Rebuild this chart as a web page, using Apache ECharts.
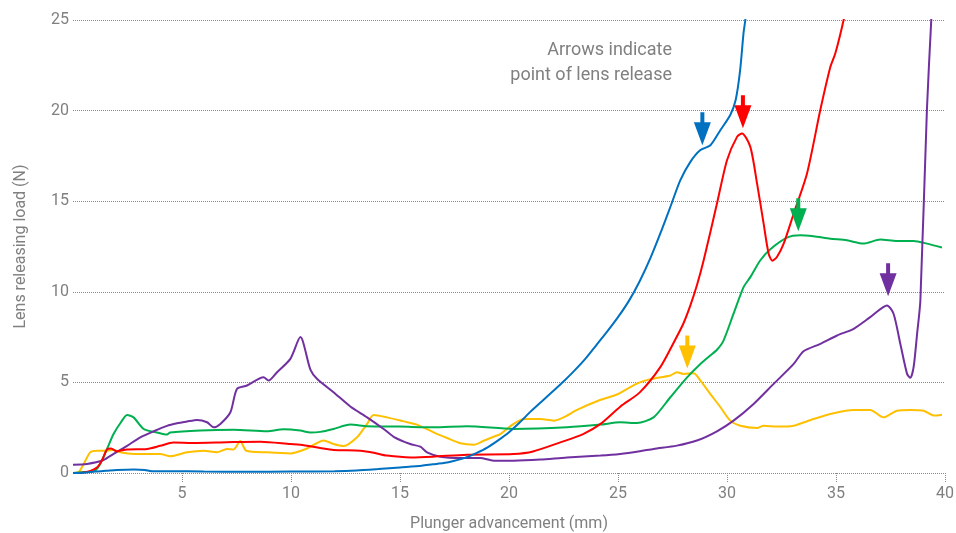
<!DOCTYPE html>
<html>
<head>
<meta charset="utf-8">
<script src="https://cdn.jsdelivr.net/npm/echarts@6/dist/echarts.min.js"></script>
<style>
  html, body { margin: 0; padding: 0; background: #fff; }
  #chart { width: 956px; height: 533px; }
</style>
</head>
<body>
<div id="chart"></div>
<script>
// Lens releasing load vs plunger advancement, one trace per cartridge
var xTicks = [5, 10, 15, 20, 25, 30, 35, 40];
var yTicks = [0, 5, 10, 15, 20, 25];

var blueData = [[0,0],[0.5,0.02],[1,0.08],[1.5,0.12],[2,0.17],[2.8,0.2],[3.3,0.17],[3.6,0.1],[4.5,0.1],[6,0.08],[8,0.07],[10,0.08],[12,0.1],[13,0.14],[14,0.22],[15,0.31],[16,0.4],[16.5,0.48],[17,0.55],[17.5,0.68],[18,0.85],[18.5,1.1],[19,1.4],[19.5,1.8],[20,2.25],[20.5,2.8],[21,3.4],[21.5,3.95],[22,4.5],[22.5,5.05],[23,5.65],[23.5,6.3],[24,7.05],[24.5,7.8],[25,8.6],[25.5,9.5],[26,10.6],[26.5,11.9],[27,13.4],[27.4,14.68],[27.86,16.16],[28.32,17.17],[28.78,17.82],[29.24,18.09],[29.7,18.93],[30.15,19.76],[30.4,20.6],[30.6,22.2],[30.76,24.3],[30.84,25],[30.95,26.5]];

var redData = [[0,0],[0.41,0.02],[0.8,0.12],[1.1,0.3],[1.33,0.7],[1.56,1.3],[1.75,1.35],[2.0,1.2],[2.48,1.3],[3.4,1.33],[4.0,1.5],[4.6,1.68],[5.5,1.66],[7.06,1.7],[8.6,1.73],[9.97,1.6],[10.43,1.56],[11.34,1.38],[11.95,1.27],[13.18,1.23],[13.8,1.12],[14.4,0.96],[15.5,0.86],[16.5,0.9],[18.07,1.01],[20.2,1.05],[21.1,1.19],[22.35,1.69],[23.4,2.15],[24.2,2.71],[25.1,3.66],[26.0,4.45],[26.94,5.84],[27.6,7.3],[28.0,8.25],[28.32,9.25],[28.63,10.4],[28.93,11.74],[29.54,14.87],[30.0,17.26],[30.46,18.55],[30.69,18.74],[31.07,18.0],[31.38,15.97],[31.68,13.76],[31.91,12.1],[32.08,11.72],[32.29,11.92],[32.6,12.66],[33.06,14.32],[33.67,16.53],[34.28,20.03],[34.74,22.4],[34.97,23.16],[35.35,25],[35.5,26]];

var greenData = [[0,0],[0.5,0.05],[0.95,0.09],[1.25,0.5],[1.55,1.3],[1.86,2.15],[2.2,2.8],[2.48,3.2],[2.78,3.07],[3.24,2.43],[3.85,2.24],[4.31,2.12],[4.46,2.23],[5.84,2.34],[7.37,2.38],[8.9,2.3],[9.66,2.41],[10.43,2.34],[10.89,2.23],[11.34,2.27],[11.95,2.43],[12.72,2.67],[13.49,2.58],[15.0,2.56],[16.54,2.52],[18.07,2.58],[20.21,2.43],[22.66,2.52],[24.2,2.67],[25.1,2.8],[25.87,2.76],[26.63,3.07],[27.4,4.18],[28.17,5.28],[28.78,6.02],[29.23,6.48],[29.54,6.8],[29.84,7.31],[30.3,8.79],[30.76,10.26],[31.07,10.81],[31.53,11.74],[31.99,12.35],[32.75,12.99],[33.36,13.12],[33.97,13.06],[34.74,12.93],[35.5,12.84],[36.26,12.66],[37.03,12.88],[37.8,12.8],[38.56,12.8],[39.17,12.66],[39.86,12.44]];

var yellowData = [[0,0],[0.26,0.05],[0.49,0.5],[0.79,1.14],[1.1,1.23],[1.56,1.23],[1.86,1.27],[2.17,1.14],[2.78,1.05],[4.0,1.05],[4.46,0.92],[5.23,1.14],[5.99,1.23],[6.6,1.14],[7.06,1.33],[7.37,1.3],[7.67,1.76],[7.95,1.23],[8.9,1.14],[9.97,1.08],[10.73,1.35],[11.5,1.8],[11.95,1.6],[12.41,1.49],[13.03,1.97],[13.49,2.71],[13.79,3.2],[14.4,3.07],[15.17,2.85],[15.78,2.67],[16.54,2.24],[17.16,1.93],[17.77,1.64],[18.38,1.56],[18.84,1.78],[19.29,2.0],[19.6,2.15],[20.21,2.71],[20.67,2.98],[21.44,2.98],[22.05,2.89],[22.5,3.07],[23.12,3.48],[24.2,4.04],[24.95,4.33],[25.5,4.7],[26.0,5.0],[26.5,5.18],[27.4,5.38],[27.7,5.56],[28.0,5.47],[28.47,5.51],[28.78,5.1],[29.23,4.37],[29.7,3.63],[30.15,2.89],[30.61,2.61],[31.38,2.49],[31.68,2.61],[32.29,2.56],[33.06,2.61],[33.97,2.98],[34.89,3.3],[35.81,3.48],[36.57,3.48],[37.18,3.07],[37.8,3.44],[38.41,3.48],[39.02,3.44],[39.48,3.17],[39.86,3.22]];

var purpleData = [[0,0.46],[0.64,0.5],[1.4,0.72],[1.86,1.05],[2.48,1.5],[3.09,1.97],[3.7,2.3],[4.31,2.6],[4.77,2.74],[5.23,2.84],[5.69,2.93],[6.15,2.8],[6.45,2.52],[6.76,2.71],[7.22,3.35],[7.52,4.64],[7.98,4.83],[8.74,5.28],[8.97,5.1],[9.36,5.56],[9.97,6.3],[10.43,7.5],[10.89,5.7],[11.19,5.2],[11.95,4.46],[12.72,3.67],[13.49,3.07],[14.25,2.43],[14.71,2.0],[15.47,1.6],[15.93,1.45],[16.24,1.14],[16.85,0.9],[17.77,0.83],[18.68,0.83],[19.29,0.68],[20.21,0.68],[21.44,0.74],[22.66,0.86],[24.2,0.96],[25.1,1.05],[26.0,1.2],[26.63,1.33],[27.7,1.51],[28.62,1.79],[29.54,2.3],[30.3,2.89],[31.22,3.81],[32.14,4.92],[33.06,6.02],[33.51,6.72],[34.28,7.13],[35.05,7.59],[35.81,7.96],[36.57,8.6],[37.34,9.25],[37.64,8.79],[37.95,7.13],[38.26,5.47],[38.41,5.25],[38.56,5.84],[38.72,7.68],[38.87,9.52],[39.17,20.03],[39.37,25],[39.45,26.5]];

// Release points (arrow tips), [x, load]
var blueRelease = [28.87, 18.09];
var redRelease = [30.73, 19.03];
var greenRelease = [33.27, 13.34];
var yellowRelease = [28.18, 5.77];
var purpleRelease = [37.39, 9.75];

var arrowPath = 'path://M6.5,0 L10.5,0 L10.5,10 L17,10 L8.5,33 L0,10 L6.5,10 Z';
var textColor = '#808080';
var fontFamily = 'Roboto, "Open Sans", sans-serif';

function trace(data, color, release) {
  return {
    type: 'line',
    data: data,
    smooth: 0.25,
    showSymbol: false,
    clip: true,
    lineStyle: { color: color, width: 2 },
    itemStyle: { color: color },
    markPoint: {
      symbol: arrowPath,
      symbolSize: [17, 33],
      symbolOffset: [0, '-50%'],
      label: { show: false },
      itemStyle: { color: color },
      data: [{ coord: release }]
    }
  };
}

var chart = echarts.init(document.getElementById('chart'), null, { renderer: 'canvas' });
chart.setOption({
  animation: false,
  grid: { left: 73, right: 11, top: 20, bottom: 60, outerBoundsMode: 'none', containLabel: false },
  xAxis: {
    type: 'value', min: 0, max: 40, interval: 5,
    name: 'Plunger advancement (mm)',
    nameLocation: 'middle', nameGap: 43,
    nameTextStyle: { color: textColor, fontSize: 16, fontFamily: fontFamily },
    axisLine: { show: false },
    axisTick: {
      show: true, length: 9, customValues: xTicks,
      lineStyle: { color: '#888', type: [1, 1] }
    },
    axisLabel: {
      customValues: xTicks, margin: 13,
      color: textColor, fontSize: 16, fontFamily: fontFamily
    },
    splitLine: { show: false }
  },
  yAxis: {
    type: 'value', min: 0, max: 25, interval: 5,
    name: 'Lens releasing load (N)',
    nameLocation: 'middle', nameGap: 44,
    nameTextStyle: { color: textColor, fontSize: 16, fontFamily: fontFamily },
    axisLine: { show: false },
    axisTick: { show: false },
    axisLabel: {
      customValues: yTicks, margin: 4,
      color: textColor, fontSize: 16, fontFamily: fontFamily
    },
    splitLine: { show: true, lineStyle: { color: '#8a8a8a', width: 1, type: [1, 1] } }
  },
  graphic: [{
    type: 'text', x: 672, y: 38,
    style: {
      text: 'Arrows indicate\npoint of lens release',
      align: 'right', verticalAlign: 'top',
      fill: textColor, fontSize: 18, lineHeight: 25,
      fontFamily: fontFamily
    }
  }],
  series: [
    trace(yellowData, '#FFC000', yellowRelease),
    trace(greenData, '#00B050', greenRelease),
    trace(purpleData, '#7030A0', purpleRelease),
    trace(redData, '#FF0000', redRelease),
    trace(blueData, '#0070C0', blueRelease)
  ]
});
</script>
</body>
</html>
